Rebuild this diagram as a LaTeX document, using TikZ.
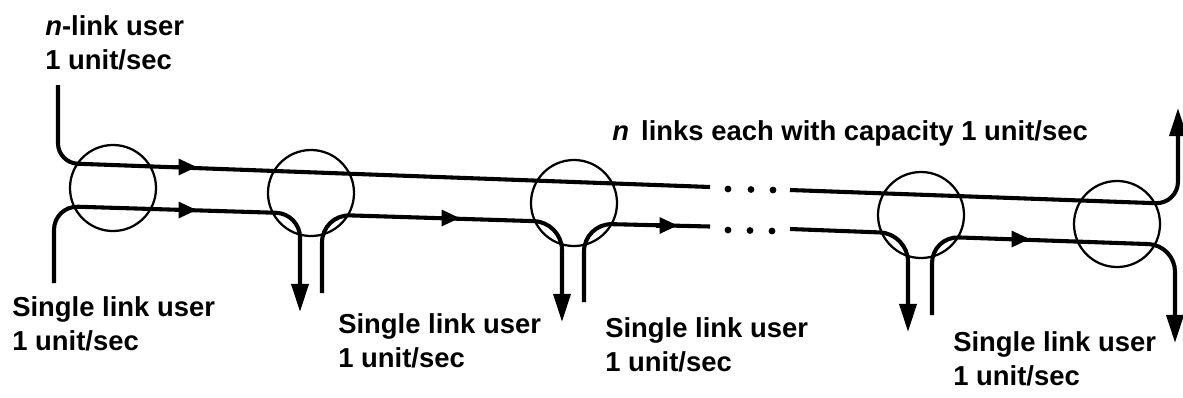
\documentclass[tikz,border=0pt]{standalone}
\usepackage{fontspec}
\setmainfont{Liberation Sans}
\usetikzlibrary{arrows.meta}
\tikzset{
	router/.style={draw, circle, line width=1.6pt, minimum size=2.15cm, inner sep=0pt},
	flow/.style={line width=2.9pt},
	midarrow/.style={line width=2.9pt, -{Triangle[length=13pt,width=11pt]}},
	endarrow/.style={-{Triangle[length=20pt,width=12pt]}},
	usertext/.style={font=\bfseries\fontsize{19.5pt}{24.2pt}\selectfont, align=left, anchor=north west, inner sep=0pt},
	linkdot/.style={circle, fill, inner sep=0pt, minimum size=0.17cm}
}

\begin{document}
\begin{tikzpicture}[x=0.025cm, y=-0.025cm]
	\useasboundingbox (0,0) rectangle (1183,397);

	\node[router] at (113,188) (c1) {};
	\node[router] at (311,193) (c2) {};
	\node[router] at (574,203) (c3) {};
	\node[router] at (921,215) (c4) {};
	\node[router] at (1117,224) (c5) {};

	% n-link user, across all the links
	\coordinate (n-src) at (58,85);
	\coordinate (n-bend) at (58,163);
	\coordinate (n-mid) at (197,167);
	\coordinate (n-gap-l) at (710,187);
	\coordinate (n-gap-r) at (790,190);
	\coordinate (n-bend-r) at (1178,204);
	\coordinate (n-sink) at (1178,108);
	\draw[flow, rounded corners=14pt] (n-src) -- (n-bend) -- (n-gap-l);
	\draw[midarrow] ([xshift=-16pt]n-mid) -- (n-mid);
	\draw[flow, rounded corners=16pt, endarrow] (n-gap-r) -- (n-bend-r) -- (n-sink);

	% single link users
	\coordinate (s1-src) at (54,283);
	\coordinate (s1-bend) at (54,206);
	\coordinate (s1-mid) at (197,210);
	\coordinate (s1-bend-r) at (300,213.5);
	\coordinate (s1-sink) at (300,312);
	\draw[flow, rounded corners=17pt, endarrow] (s1-src) -- (s1-bend) -- (s1-bend-r) -- (s1-sink);
	\draw[midarrow] ([xshift=-16pt]s1-mid) -- (s1-mid);

	\coordinate (s2-src) at (322,293);
	\coordinate (s2-bend) at (322,214.5);
	\coordinate (s2-mid) at (460,218);
	\coordinate (s2-bend-r) at (562,222);
	\coordinate (s2-sink) at (562,322);
	\draw[flow, rounded corners=20pt, endarrow] (s2-src) -- (s2-bend) -- (s2-bend-r) -- (s2-sink);
	\draw[midarrow] ([xshift=-16pt]s2-mid) -- (s2-mid);

	\coordinate (s3-src) at (584,302);
	\coordinate (s3-bend) at (584,223.5);
	\coordinate (s3-mid) at (678,225.5);
	\coordinate (s3-gap-l) at (710,226.5);
	\coordinate (s3-gap-r) at (790,229);
	\coordinate (s3-bend-r) at (908,233.5);
	\coordinate (s3-sink) at (908,332);
	\draw[flow, rounded corners=20pt] (s3-src) -- (s3-bend) -- (s3-gap-l);
	\draw[midarrow] ([xshift=-16pt]s3-mid) -- (s3-mid);
	\draw[flow, rounded corners=20pt, endarrow] (s3-gap-r) -- (s3-bend-r) -- (s3-sink);

	\coordinate (s4-src) at (932,315);
	\coordinate (s4-bend) at (932,236.5);
	\coordinate (s4-mid) at (1030,239);
	\coordinate (s4-bend-r) at (1175,245);
	\coordinate (s4-sink) at (1175,343);
	\draw[flow, rounded corners=19pt, endarrow] (s4-src) -- (s4-bend) -- (s4-bend-r) -- (s4-sink);
	\draw[midarrow] ([xshift=-16pt]s4-mid) -- (s4-mid);

	% the links left out
	\node[linkdot] at (728,189) (dot-t1) {};
	\node[linkdot] at (751,189.5) (dot-t2) {};
	\node[linkdot] at (773,190) (dot-t3) {};
	\node[linkdot] at (728,230) (dot-b1) {};
	\node[linkdot] at (750,230.5) (dot-b2) {};
	\node[linkdot] at (772,231) (dot-b3) {};

	\node[usertext] at (45,15) (n-user) {\textit{n}-link user\\1 unit/sec};
	\node[usertext] at (612,120) (links-text) {\textit{n}\, links each with capacity 1 unit/sec};
	\node[usertext] at (12,296) (s1-user) {Single link user\\1 unit/sec};
	\node[usertext] at (338,313) (s2-user) {Single link user\\1 unit/sec};
	\node[usertext] at (605,317) (s3-user) {Single link user\\1 unit/sec};
	\node[usertext] at (953,331) (s4-user) {Single link user\\1 unit/sec};
\end{tikzpicture}
\end{document}
